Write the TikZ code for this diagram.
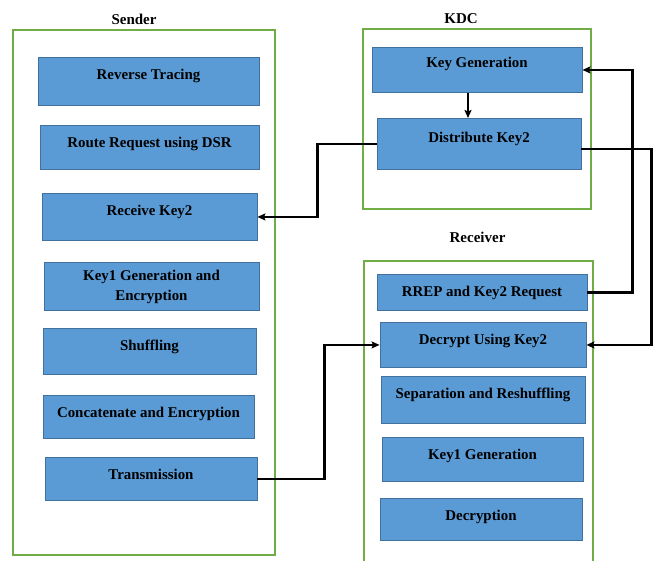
\documentclass[tikz,border=0pt]{standalone}
\usepackage{fontspec}
\setmainfont{Liberation Serif}
\usetikzlibrary{arrows.meta,positioning}
\definecolor{stagefill}{HTML}{5B9BD5}
\definecolor{stageline}{HTML}{41719C}
\definecolor{panelgreen}{HTML}{70AD47}

\begin{document}
\begin{tikzpicture}[
			x=1pt, y=-1pt,
			>={Stealth[length=8pt,width=7pt,inset=1.5pt]},
			panel/.style={
				draw=panelgreen,
				line width=1.8pt,
				inner sep=0pt
			},
			title/.style={
				font=\fontsize{15}{18}\selectfont\bfseries,
				inner sep=0pt
			},
			stage/.style={
				draw=stageline,
				fill=stagefill,
				line width=0.9pt,
				font=\fontsize{14.9}{20}\selectfont\bfseries,
				align=center,
				inner ysep=0pt,
				anchor=north
			},
			stagetop/.style={
				stage,
				text height=22pt,
				text depth=#1
			},
			link/.style={
				->,
				line width=2.3pt
			}
			]
			\useasboundingbox (0,0) rectangle (659,561);

			% containers
			\node[panel, minimum width=262pt, minimum height=525pt] (sender) at (144,292.5) {};
			\node[panel, minimum width=228pt, minimum height=180pt] (kdc) at (477,119) {};
			\node[panel, minimum width=229pt, minimum height=309pt] (receiver) at (478.5,415.5) {};

			\node[title, above=4pt of sender, xshift=-10pt] {Sender};
			\node[title, above=4pt of kdc, xshift=-16pt] {KDC};
			\node[title, above=17pt of receiver, xshift=-1pt] {Receiver};

			% sender steps
			\node[stagetop=26pt, minimum width=221pt] (rev) at (148.5,57) {Reverse Tracing};
			\node[stagetop=22pt, minimum width=219pt] (rreq) at (149.5,125) {Route Request using DSR};
			\node[stagetop=25pt, minimum width=215pt] (recv) at (149.5,193) {Receive Key2};
			\node[stage, minimum width=215pt, minimum height=48pt] (kenc) at (151.5,262) {Key1 Generation and\\Encryption};
			\node[stagetop=24pt, minimum width=213pt] (shuf) at (149.5,328) {Shuffling};
			\node[stagetop=21pt, minimum width=211pt] (conc) at (148.5,395) {Concatenate and Encryption};
			\node[stagetop=21pt, minimum width=212pt] (trans) at (151,457) {Transmission};

			% KDC steps
			\node[stagetop=25pt, minimum width=210pt, text height=20pt] (keygen) at (477,47) {Key Generation};
			\node[stagetop=27pt, minimum width=204pt, text height=24pt] (dist) at (479,118) {Distribute Key2};

			% receiver steps
			\node[stagetop=14pt, minimum width=210pt] (rrep) at (482,274) {RREP and Key2 Request};
			\node[stagetop=23pt, minimum width=206pt] (dec2) at (483,322) {Decrypt Using Key2};
			\node[stagetop=25pt, minimum width=204pt] (sep) at (483,376) {Separation and Reshuffling};
			\node[stagetop=22pt, minimum width=201pt] (kgenr) at (482.5,437) {Key1 Generation};
			\node[stagetop=20pt, minimum width=202pt] (decr) at (481,498) {Decryption};

			% connectors
			\draw[link] ([xshift=-9pt]keygen.south) -- ([xshift=-11pt]dist.north);
			\draw[link] (dist.west) -- ++(-59,0) |- (recv.east);
			\draw[link] (rrep.east) -- ++(45,0) |- (keygen.east);
			\draw[link] ([yshift=-5pt]dist.east) -- ++(70,0) |- (dec2.east);
			\draw[link] (trans.east) -- ++(67,0) |- (dec2.west);

\end{tikzpicture}
\end{document}
